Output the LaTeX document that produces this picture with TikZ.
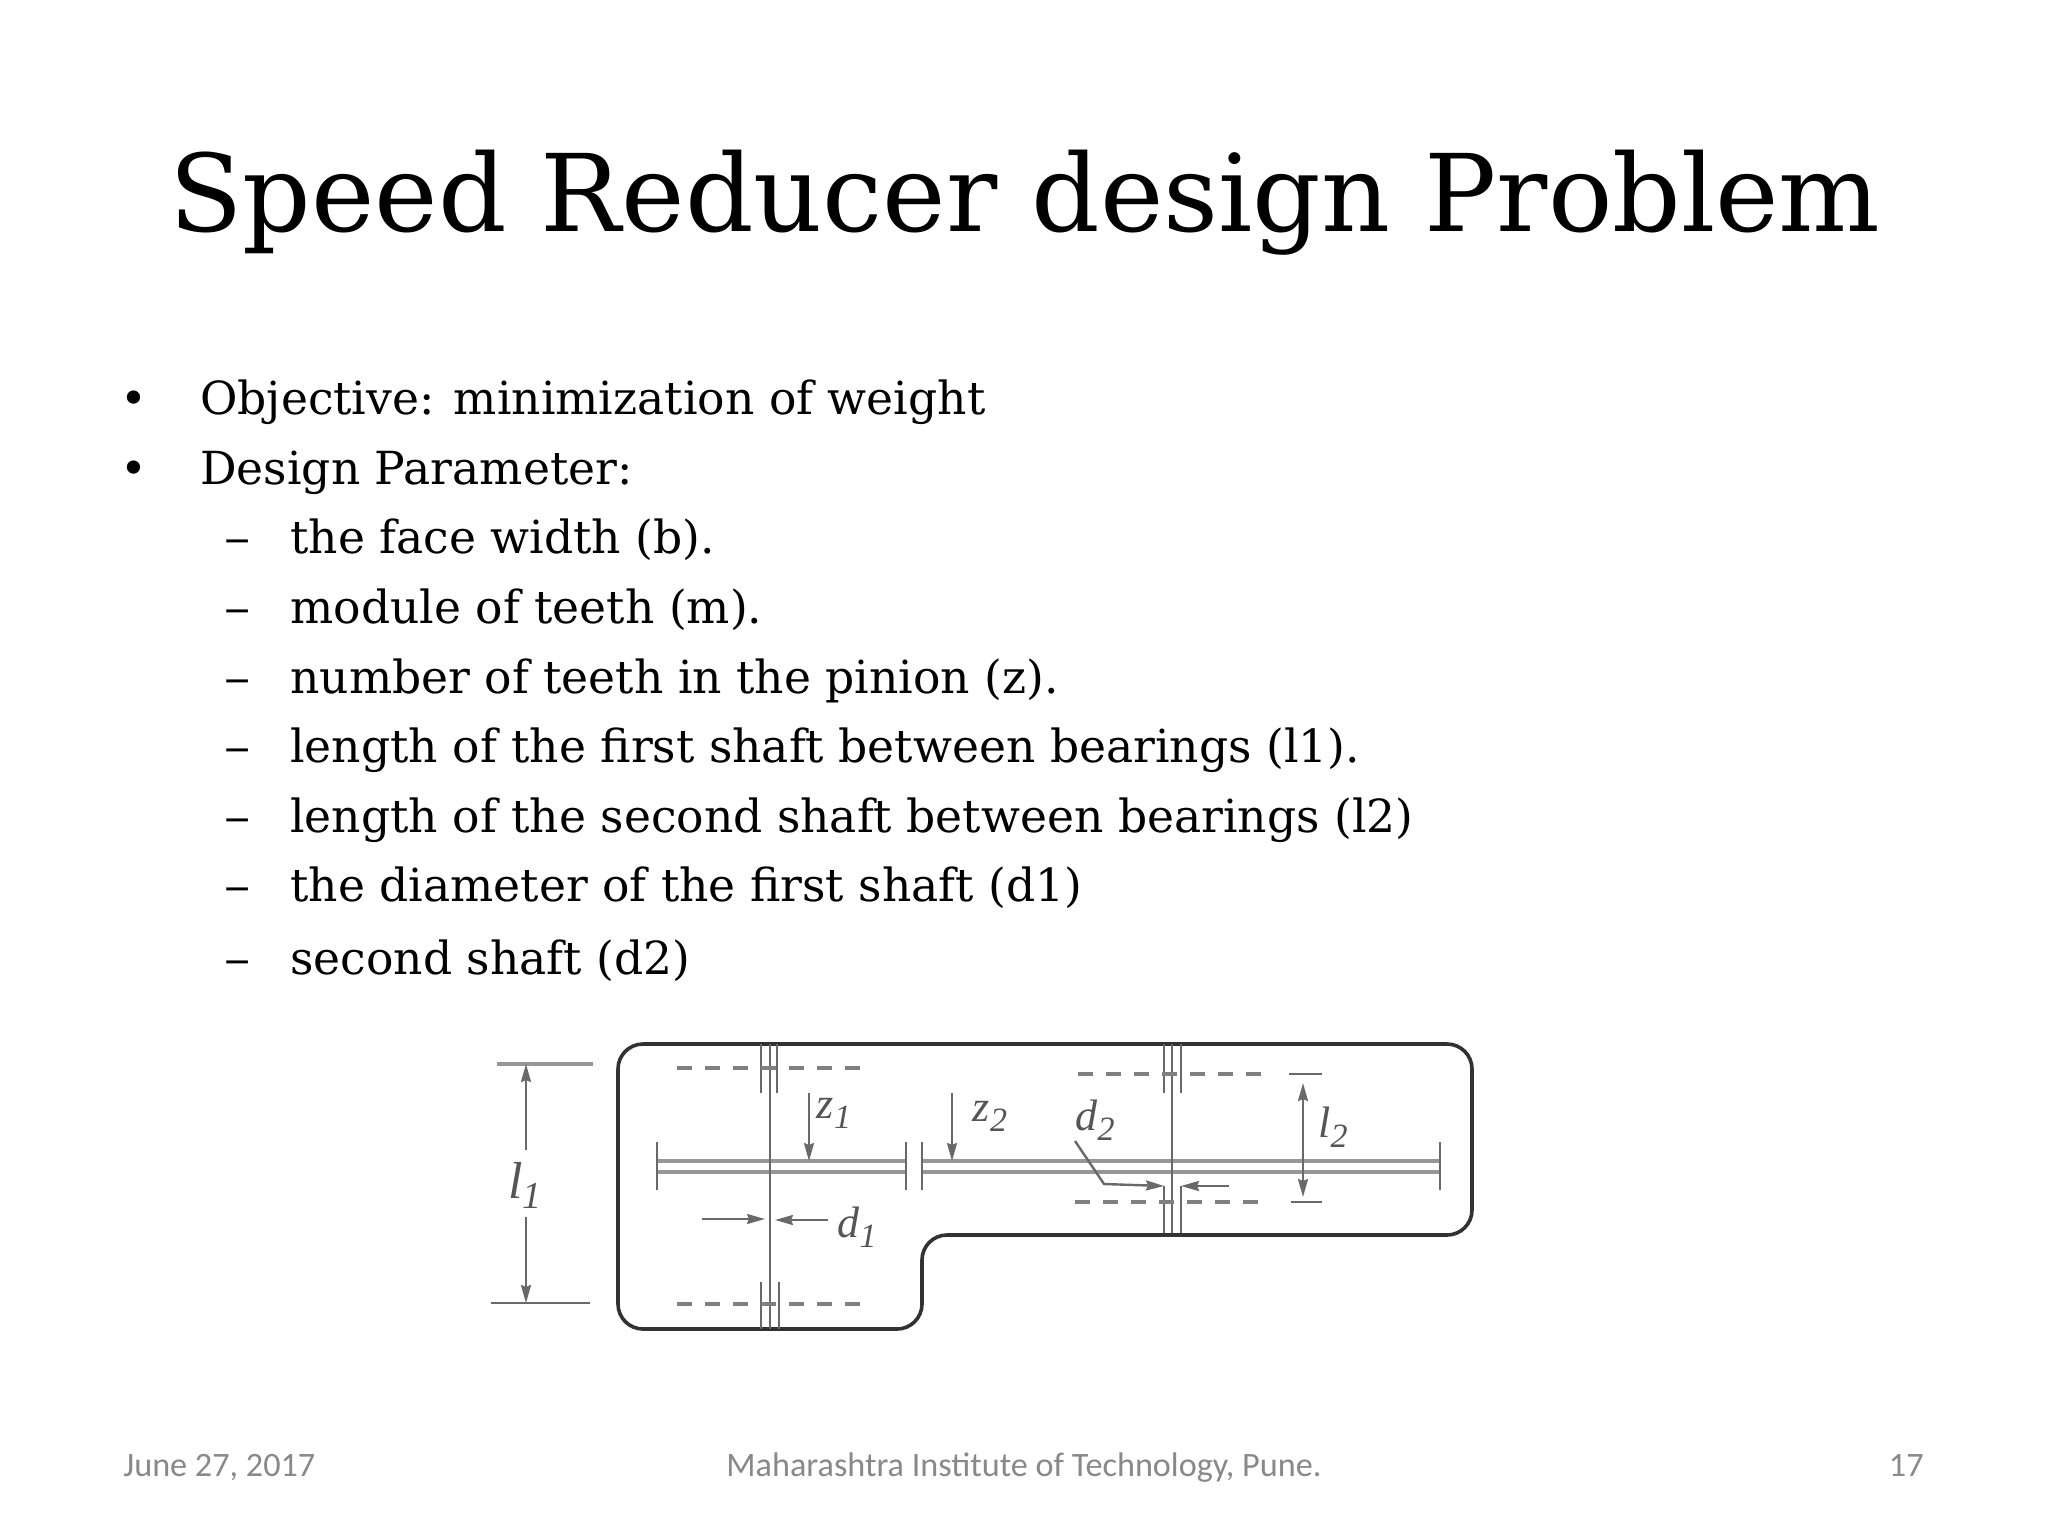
\documentclass[tikz,border=0pt]{standalone}
\usepackage{fontspec}
\setmainfont{DejaVu Serif}
\newfontfamily\footfont{Carlito}
\newfontfamily\labfont{Liberation Serif}
\usetikzlibrary{arrows.meta}
\definecolor{footgray}{RGB}{137,137,137}
\definecolor{inkc}{RGB}{50,50,50}
\definecolor{shaftc}{RGB}{150,150,150}
\definecolor{thinc}{RGB}{105,105,105}
\definecolor{labc}{RGB}{85,85,85}
\tikzset{
  x=0.5pt,y=-0.5pt,
  body/.style={anchor=base west,inner sep=0pt,font=\fontsize{22.8}{27}\selectfont,text=black},
  foot/.style={inner sep=0pt,font=\footfont\fontsize{17.1}{20}\selectfont,text=footgray},
  wall/.style={draw=inkc,line width=1.8pt,rounded corners=12.5pt},
  shaft/.style={draw=shaftc,line width=1.9pt},
  thin/.style={draw=thinc,line width=1.2pt},
  dim/.style={draw=thinc,line width=1.2pt},
  dimtip/.style={dim,-{Stealth[length=9pt,width=5pt,inset=1pt]}},
  gap/.style={draw=thinc!85,line width=1.7pt,dash pattern=on 7.5pt off 6.5pt},
  lab/.style={inner sep=0pt,font=\labfont\itshape\fontsize{22}{24}\selectfont,text=labc}
}
\newcommand{\lsub}[1]{\raisebox{-5pt}{\fontsize{17}{20}\selectfont #1}}
\begin{document}
\begin{tikzpicture}
\useasboundingbox (0,0) rectangle (2048,1536);
\fill[white] (0,0) rectangle (2048,1536);
\node[anchor=base,inner sep=0pt,font=\fontsize{53.6}{64}\selectfont,text=black] (title) at (1025,231) {Speed Reducer design Problem};
\foreach \n/\y/\t in {o/414.5/Objective: minimization of weight,p/484.5/Design Parameter:}{
  \node[body] (b\n) at (120,\y) {•};
  \node[body] (t\n) at (200,\y) {\t};
}
\foreach \n/\y/\t in {a/553.5/the face width (b).,b/623.5/module of teeth (m).,c/693.5/number of teeth in the pinion (z).,d/762.5/length of the first shaft between bearings (l1).,e/832.5/length of the second shaft between bearings (l2),f/901.5/the diameter of the first shaft (d1),g/974.5/second shaft (d2)}{
  \node[body,xscale=1.15] (d\n) at (224,\y) {–};
  \node[body] (s\n) at (290,\y) {\t};
}
% housing
\draw[wall] (618,1150) -- (618,1044) -- (1472,1044) -- (1472,1235) -- (922,1235) -- (922,1329) -- (618,1329) -- cycle;
% shafts
\draw[shaft] (657,1161) -- (906,1161) (657,1172) -- (906,1172);
\draw[shaft] (922,1161) -- (1440,1161) (922,1172) -- (1440,1172);
\draw[thin] (657,1142) -- (657,1190) (906,1142) -- (906,1190) (922,1142) -- (922,1190) (1440,1142) -- (1440,1190);
% gear 1
\draw[thin] (770,1044) -- (770,1329);
\draw[thin] (761,1044) -- (761,1093) (777,1044) -- (777,1093) (761,1282) -- (761,1329) (779,1282) -- (779,1329);
\draw[gap] (677,1068) -- (860,1068) (677,1304) -- (860,1304);
% gear 2
\draw[thin] (1172,1044) -- (1172,1233);
\draw[thin] (1164,1044) -- (1164,1093) (1181,1044) -- (1181,1093) (1164,1186) -- (1164,1233) (1181,1186) -- (1181,1233);
\draw[gap] (1078,1074) -- (1262,1074) (1075,1202) -- (1258,1202);
\draw[thin] (1289,1074) -- (1322,1074) (1291,1202) -- (1322,1202);
% l1
\draw[shaft] (497,1064) -- (593,1064);
\draw[thin] (491,1303) -- (590,1303);
\draw[dimtip] (526,1150) -- (526,1064);
\draw[dimtip] (526,1217) -- (526,1303);
% arrows
\draw[dimtip] (809,1093) -- (809,1161);
\draw[dimtip] (952,1093) -- (952,1161);
\draw[dimtip] (702,1219) -- (765,1219);
\draw[dimtip] (828,1220) -- (775,1220);
\draw[dimtip] (1075,1141) -- (1104,1184) -- (1164,1186);
\draw[dimtip] (1229,1186) -- (1181,1186);
\draw[dimtip] (1303,1140) -- (1303,1083);
\draw[dimtip] (1303,1140) -- (1303,1197);
% labels
\node[lab] (l1) at (525,1185) {\fontsize{26}{28}\selectfont l\raisebox{-5pt}{\fontsize{19}{20}\selectfont 1}};
\node[lab] (z1) at (834,1113) {z\lsub{1}};
\node[lab] (z2) at (990,1116) {z\lsub{2}};
\node[lab] (d1) at (857,1227) {d\lsub{1}};
\node[lab] (d2) at (1095,1120) {d\lsub{2}};
\node[lab] (l2) at (1333,1127) {l\lsub{2}};
% footer
\node[foot,anchor=base west] (fd) at (123,1476) {June 27, 2017};
\node[foot,anchor=base] (fm) at (1024,1476) {Maharashtra Institute of Technology, Pune.};
\node[foot,anchor=base east] (fn) at (1924,1476) {17};
\end{tikzpicture}
\end{document}
